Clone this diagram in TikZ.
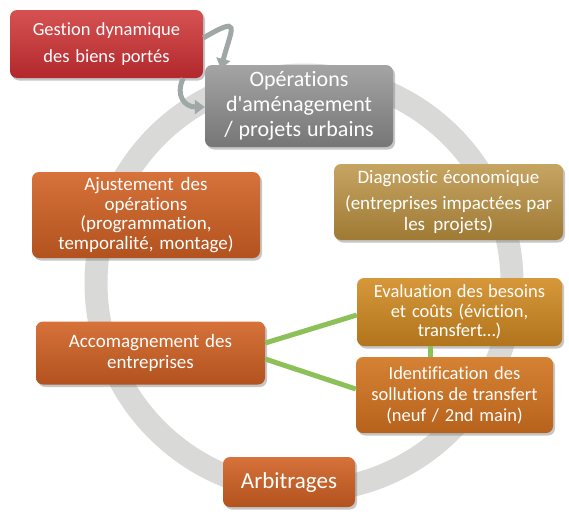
\documentclass[tikz,border=0pt]{standalone}
\usepackage{fontspec}
\setmainfont{Carlito}[Ligatures=NoCommon]
\usetikzlibrary{arrows.meta,shadows}

\definecolor{ringgray}{RGB}{217,218,216}
\definecolor{arrgray}{RGB}{160,167,167}
\definecolor{linkgreen}{RGB}{140,192,88}
\newcommand\boxfont[2]{\fontsize{#1}{#2}\selectfont}

\begin{document}
\begin{tikzpicture}[x=1pt,y=1pt,
    box/.style={rectangle,rounded corners=7pt,text=white,align=center,inner sep=0pt,
      execute at begin node={\spaceskip=0pt\xspaceskip=0pt},
      drop shadow={shadow xshift=2pt,shadow yshift=-2.5pt,opacity=.45}},
    redbox/.style={box,top color={rgb,255:red,214;green,82;blue,82},bottom color={rgb,255:red,178;green,40;blue,44}},
    graybox/.style={box,top color={rgb,255:red,164;green,164;blue,164},bottom color={rgb,255:red,118;green,118;blue,118}},
    tanbox/.style={box,top color={rgb,255:red,198;green,164;blue,98},bottom color={rgb,255:red,158;green,122;blue,52}},
    orgbox/.style={box,top color={rgb,255:red,214;green,114;blue,58},bottom color={rgb,255:red,178;green,82;blue,30}},
    goldbox/.style={box,top color={rgb,255:red,214;green,152;blue,58},bottom color={rgb,255:red,178;green,116;blue,28}},
    ambbox/.style={box,top color={rgb,255:red,214;green,130;blue,52},bottom color={rgb,255:red,182;green,98;blue,28}},
    garrow/.style={arrgray,line width=5pt,-{Triangle[width=14pt,length=10pt]}},
    glink/.style={linkgreen,line width=5pt}]

  \useasboundingbox (0,0) rectangle (569,-514);

  % cycle behind the boxes
  \draw[ringgray,line width=23pt] (304,-283) circle[radius=208pt];

  \node[redbox,minimum width=193pt,minimum height=68pt,text width=185pt,font=\boxfont{18.5}{27}] (gest) at (106.5,-44)
    {Gestion dynamique\\des biens portés};
  \node[graybox,minimum width=188pt,minimum height=82pt,text width=184pt,font=\boxfont{22}{25}] (oper) at (299,-106)
    {Opérations\\d\textquotesingle aménagement\\/ projets urbains};
  \node[tanbox,minimum width=229pt,minimum height=76pt,text width=225pt,font=\boxfont{19}{21}] (diag) at (448.5,-202)
    {Diagnostic économique\\[5pt](entreprises impactées par\\les projets)};
  \node[orgbox,minimum width=228pt,minimum height=86pt,text width=220pt,font=\boxfont{19}{19.5}] (ajus) at (146,-215)
    {Ajustement des\\opérations\\(programmation,\\temporalité, montage)};
  \node[orgbox,minimum width=229pt,minimum height=63pt,text width=220pt,font=\boxfont{19}{21}] (acco) at (150.5,-353)
    {Accomagnement des\\entreprises};
  \node[goldbox,minimum width=205pt,minimum height=68pt,text width=200pt,font=\boxfont{18.5}{19.5}] (eval) at (459.5,-312)
    {Evaluation des besoins\\et coûts (éviction,\\transfert…)};
  \node[ambbox,minimum width=197pt,minimum height=76pt,text width=192pt,font=\boxfont{18.5}{21}] (iden) at (454.5,-395)
    {Identification des\\sollutions de transfert\\(neuf / 2nd main)};
  \node[orgbox,minimum width=132pt,minimum height=50pt,font=\boxfont{23}{26}] (arbi) at (289,-482)
    {Arbitrages};

  \draw[garrow] ([yshift=6pt]gest.east) to[out=30,in=75,looseness=3.2] ([xshift=16pt,yshift=-4pt]oper.north west);
  \draw[garrow] ([xshift=-20pt]gest.south east) to[out=-115,in=180,looseness=1.4] ([yshift=-1pt]oper.west);

  \draw[glink] ([yshift=10pt]acco.east) -- ([yshift=-3pt]eval.west);
  \draw[glink] ([yshift=-6pt]acco.east) -- ([yshift=6pt]iden.west);
  \draw[glink] ([xshift=-29pt]eval.south) -- ([xshift=-24pt]iden.north);
\end{tikzpicture}
\end{document}
